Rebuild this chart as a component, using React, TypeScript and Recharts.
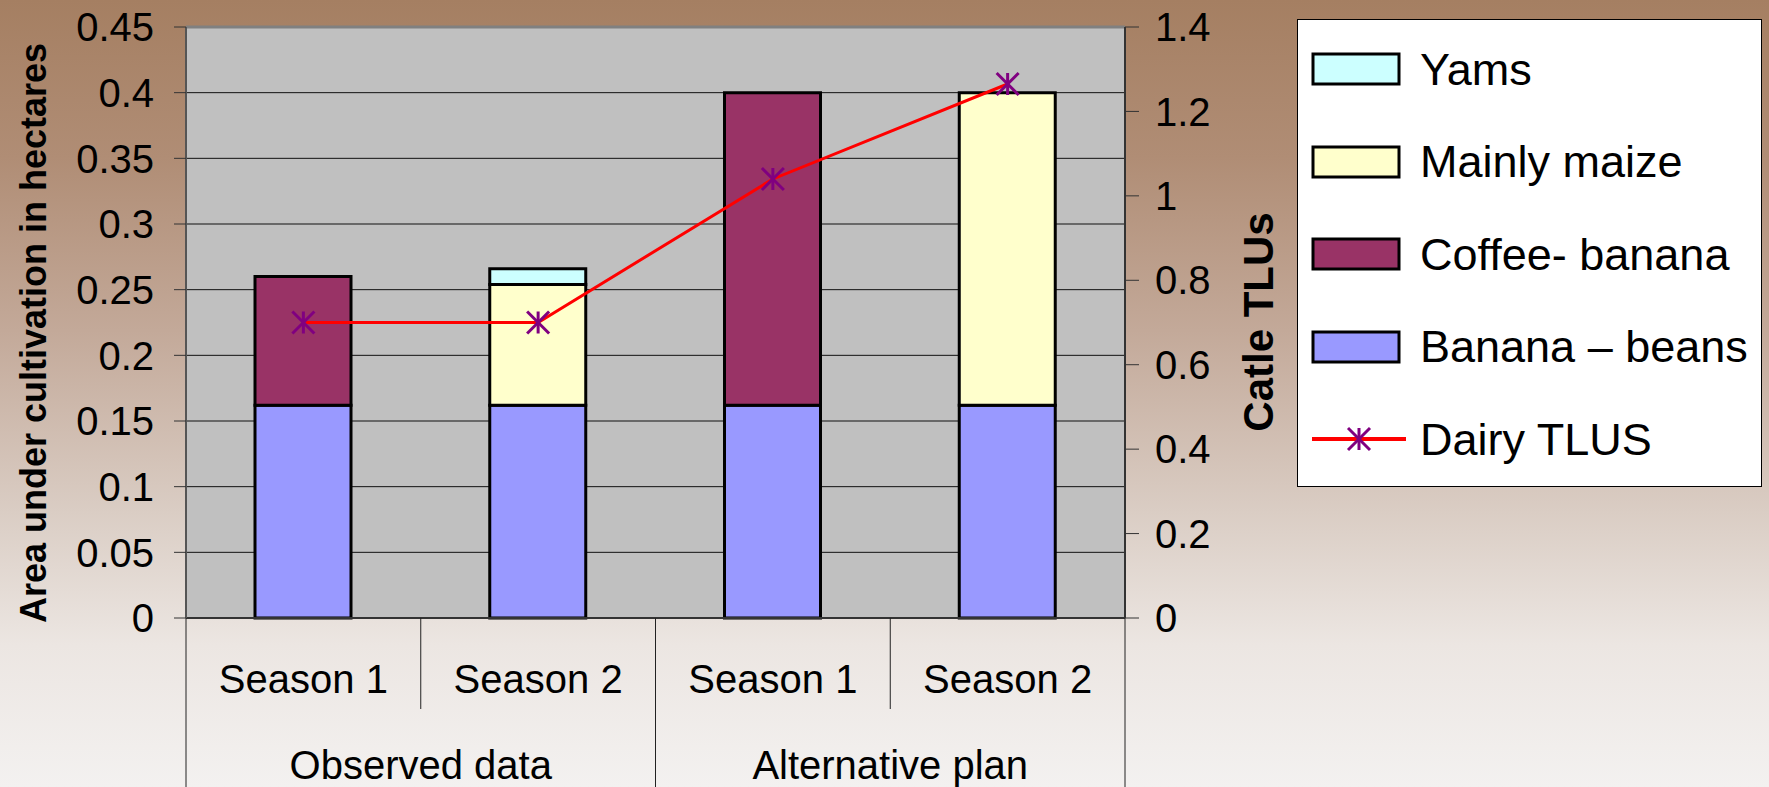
import {
  ComposedChart, Bar, Line, XAxis, YAxis, CartesianGrid, ReferenceLine,
} from "recharts";

const categories = ["Season 1", "Season 2", "Season 1", "Season 2"];
const groups = ["Observed data", "Alternative plan"];
const bananaBeans = [0.162, 0.162, 0.162, 0.162];
const coffeeBanana = [0.098, 0, 0.238, 0];
const mainlyMaize = [0, 0.092, 0, 0.238];
const yams = [0, 0.012, 0, 0];
const dairyTLUS = [0.7, 0.7, 1.04, 1.265];

const leftTicks = [0, 0.05, 0.1, 0.15, 0.2, 0.25, 0.3, 0.35, 0.4, 0.45];
const rightTicks = [0, 0.2, 0.4, 0.6, 0.8, 1, 1.2, 1.4];

const W = 1769;
const H = 787;
const LEFT_W = 186;
const RIGHT_W = 180;
const MARGIN_R = 464;
const TOP = 27;
const XAXIS_H = 169;
const PLOT_W = W - LEFT_W - RIGHT_W - MARGIN_R;
const BAND = PLOT_W / categories.length;

const FONT = "'Liberation Sans', Arial, sans-serif";

const COLORS = {
  bananaBeans: "#9999FF",
  coffeeBanana: "#993366",
  mainlyMaize: "#FFFFCC",
  yams: "#CCFFFF",
  line: "#FF0000",
  marker: "#800080",
};

const data = categories.map((c, i) => ({
  season: c,
  bananaBeans: bananaBeans[i],
  coffeeBanana: coffeeBanana[i],
  mainlyMaize: mainlyMaize[i],
  yams: yams[i],
  dairy: dairyTLUS[i],
}));

// asterisk marker like the Excel "star" point
const Asterisk = (props: any) => {
  const { cx, cy } = props;
  if (cx == null || cy == null) return null;
  const r = 11;
  return (
    <g stroke={COLORS.marker} strokeWidth={3} key={`m-${cx}`}>
      <line x1={cx} y1={cy - r} x2={cx} y2={cy + r} />
      <line x1={cx - r} y1={cy - r} x2={cx + r} y2={cy + r} />
      <line x1={cx - r} y1={cy + r} x2={cx + r} y2={cy - r} />
    </g>
  );
};

// two-level category ticks with separators
const SeasonTick = (props: any) => {
  const { x, y, payload, index } = props;
  const i = index ?? payload.index;
  const groupStart = i % 2 === 0;
  const last = i === categories.length - 1;
  return (
    <g>
      <line
        x1={x - BAND / 2} x2={x - BAND / 2}
        y1={y} y2={y + (groupStart ? XAXIS_H : 91)}
        stroke="#222" strokeWidth={1}
      />
      {last && (
        <line x1={x + BAND / 2} x2={x + BAND / 2} y1={y} y2={y + XAXIS_H} stroke="#222" strokeWidth={1} />
      )}
      <text x={x} y={y + 75} textAnchor="middle" fontSize={40} fontFamily={FONT} fill="#000">
        {payload.value}
      </text>
      {groupStart && (
        <text x={x + BAND / 2} y={y + 161} textAnchor="middle" fontSize={40} fontFamily={FONT} fill="#000">
          {groups[i / 2]}
        </text>
      )}
    </g>
  );
};

const legendItems = [
  { name: "Yams", color: COLORS.yams },
  { name: "Mainly maize", color: COLORS.mainlyMaize },
  { name: "Coffee- banana", color: COLORS.coffeeBanana },
  { name: "Banana \u2013 beans", color: COLORS.bananaBeans },
  { name: "Dairy TLUS", line: true },
];

function ChartLegend() {
  return (
    <div
      style={{
        position: "absolute", left: 1297, top: 19, width: 465, height: 468,
        background: "#fff", border: "1px solid #000", boxSizing: "border-box",
        fontFamily: FONT, fontSize: 45, color: "#000",
      }}
    >
      {legendItems.map((it, i) => (
        <div
          key={it.name}
          style={{
            position: "absolute", left: 0, top: 3 + i * 92.5, height: 92, width: "100%",
            display: "flex", alignItems: "center",
          }}
        >
          <svg width={110} height={40} style={{ marginLeft: 12 }}>
            {it.line ? (
              <g>
                <line x1={2} x2={96} y1={20} y2={20} stroke={COLORS.line} strokeWidth={4} />
                <Asterisk cx={49} cy={20} />
              </g>
            ) : (
              <rect x={3} y={5} width={86} height={30} fill={it.color} stroke="#000" strokeWidth={3} />
            )}
          </svg>
          <span style={{ lineHeight: 1, whiteSpace: "nowrap" }}>{it.name}</span>
        </div>
      ))}
    </div>
  );
}

export default function App() {
  return (
    <div
      style={{
        position: "absolute", left: 0, top: 0, width: W, height: H, overflow: "hidden",
        background:
          "linear-gradient(180deg, #A57F62 0%, #B08D75 20%, #C3A999 42%, #DACDC4 65%, #ECE6E2 82%, #F3F1F0 100%)",
      }}
    >
      <ComposedChart
        width={W}
        height={H}
        data={data}
        margin={{ top: TOP, right: MARGIN_R, bottom: 0, left: 0 }}
        barSize={96}
      >
        <CartesianGrid
          yAxisId="left"
          vertical={false}
          fill="#C0C0C0"
          fillOpacity={1}
          stroke="#111"
          strokeWidth={1}
        />
        <XAxis
          dataKey="season"
          height={XAXIS_H}
          tickSize={0}
          tickMargin={0}
          tickLine={false}
          axisLine={{ stroke: "#333", strokeWidth: 2 }}
          tick={<SeasonTick />}
          interval={0}
        />
        <YAxis
          yAxisId="left"
          width={LEFT_W}
          domain={[0, 0.45]}
          ticks={leftTicks}
          interval={0}
          tickSize={12}
          tickMargin={20}
          tickLine={{ stroke: "#333" }}
          axisLine={{ stroke: "#555", strokeWidth: 2 }}
          tick={{ fontSize: 40, fill: "#000", fontFamily: FONT }}
          label={{
            content: () => (
              <text
                x={33} y={333}
                transform="rotate(-90 33 333)"
                textAnchor="middle" dominantBaseline="central"
                fontSize={36} fontWeight="bold" fontFamily={FONT} fill="#000"
              >
                Area under cultivation in hectares
              </text>
            ),
          }}
        />
        <YAxis
          yAxisId="right"
          orientation="right"
          width={RIGHT_W}
          domain={[0, 1.4]}
          ticks={rightTicks}
          interval={0}
          tickSize={14}
          tickMargin={16}
          tickLine={{ stroke: "#333" }}
          axisLine={{ stroke: "#333", strokeWidth: 2 }}
          tick={{ fontSize: 40, fill: "#000", fontFamily: FONT }}
          label={{
            content: () => (
              <text
                x={1258} y={322}
                transform="rotate(-90 1258 322)"
                textAnchor="middle" dominantBaseline="central"
                fontSize={42} fontWeight="bold" fontFamily={FONT} fill="#000"
              >
                Catle TLUs
              </text>
            ),
          }}
        />
        <ReferenceLine yAxisId="left" y={0.45} stroke="#808080" strokeWidth={3} />
        <Bar yAxisId="left" dataKey="bananaBeans" stackId="a" fill={COLORS.bananaBeans} stroke="#000" strokeWidth={3} isAnimationActive={false} />
        <Bar yAxisId="left" dataKey="coffeeBanana" stackId="a" fill={COLORS.coffeeBanana} stroke="#000" strokeWidth={3} isAnimationActive={false} />
        <Bar yAxisId="left" dataKey="mainlyMaize" stackId="a" fill={COLORS.mainlyMaize} stroke="#000" strokeWidth={3} isAnimationActive={false} />
        <Bar yAxisId="left" dataKey="yams" stackId="a" fill={COLORS.yams} stroke="#000" strokeWidth={3} isAnimationActive={false} />
        <Line
          yAxisId="right"
          dataKey="dairy"
          stroke={COLORS.line}
          strokeWidth={3}
          dot={<Asterisk />}
          activeDot={false}
          isAnimationActive={false}
        />
      </ComposedChart>
      <ChartLegend />
    </div>
  );
}
